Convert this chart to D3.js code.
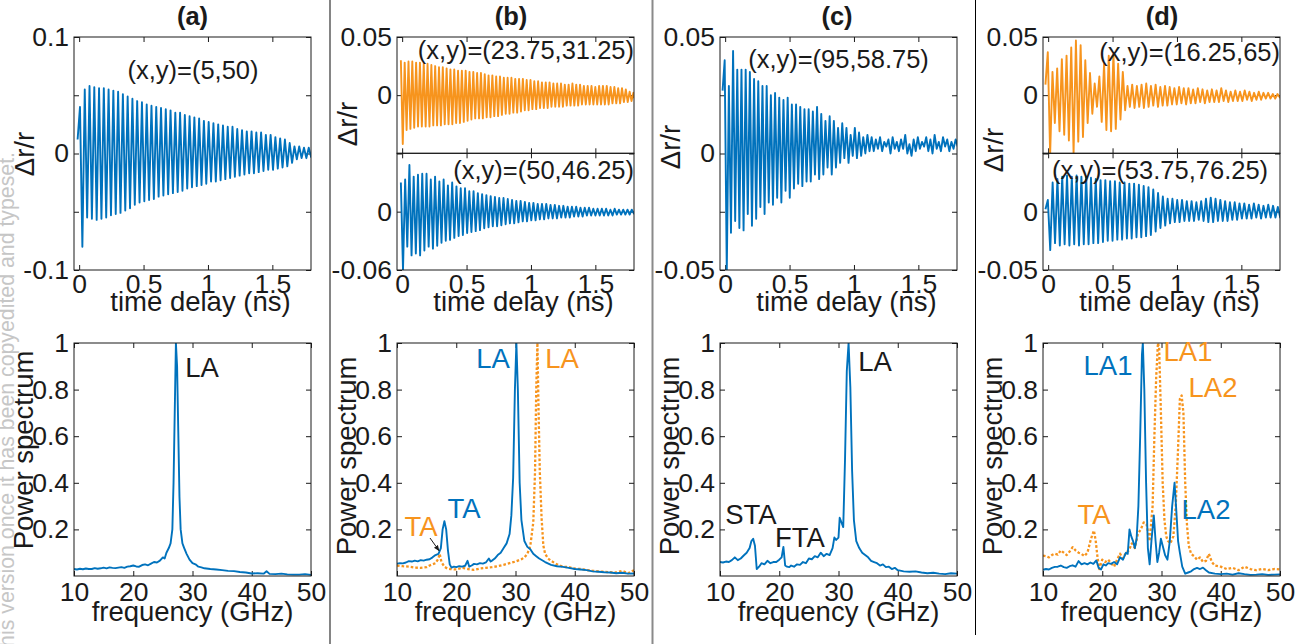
<!DOCTYPE html>
<html><head><meta charset="utf-8">
<script src="https://cdn.jsdelivr.net/npm/d3@7"></script>
<style>
body{margin:0;background:#fff;}
svg{display:block;font-family:"Liberation Sans",Arial,Helvetica,sans-serif;}
</style></head><body>
<script>
// ---------------- DATA ----------------
const panelTitles = ["(a)","(b)","(c)","(d)"];
const timeTicks = [0,0.5,1,1.5];
const freqTicks = [10,20,30,40,50];
const powerTicks = [0.2,0.4,0.6,0.8,1];
const timeDomain = [-0.04,1.8];
const freqDomain = [10,50];

// time traces: successive extrema of Δr/r, sampled from t0 with step dt (ns)
const traceA_t0 = -0.012, traceA_dt = 0.0185;
const traceA = [.012,.040,-.080,
.055,-.055,.058,-.056,.057,-.057,.056,-.056,.056,-.055,
.055,-.053,.054,-.052,.053,-.051,.051,-.049,.049,-.047,
.047,-.044,.045,-.042,.044,-.041,.042,-.040,.041,-.039,
.040,-.037,.039,-.036,.038,-.035,.037,-.034,.035,-.033,
.035,-.032,.033,-.030,.032,-.029,.031,-.028,.030,-.027,
.028,-.026,.027,-.024,.026,-.024,.025,-.023,.024,-.022,
.023,-.021,.023,-.020,.021,-.019,.020,-.018,.019,-.017,
.019,-.017,.018,-.016,.018,-.015,.016,-.014,.016,-.014,
.014,-.013,.013,-.012,.012,-.011,.009,-.008,.006,-.005,
.006,-.004,.005,-.004,.005,-.003,.004,-.002];

const traceBup_t0 = -0.01, traceBup_dt = 0.0148;
const traceBup = [.030,-.042,
.028,-.030,.029,-.029,.029,-.028,.028,-.027,.028,-.027,
.027,-.027,.027,-.027,.026,-.026,.025,-.026,.024,-.026,
.024,-.025,.023,-.025,.022,-.025,.022,-.024,.021,-.024,
.021,-.023,.021,-.022,.020,-.021,.020,-.020,.019,-.020,
.019,-.020,.018,-.019,.017,-.019,.017,-.018,.016,-.018,
.016,-.017,.015,-.016,.015,-.016,.015,-.015,.014,-.015,
.014,-.014,.014,-.013,.013,-.013,.013,-.012,.012,-.012,
.012,-.011,.011,-.011,.011,-.011,.011,-.010,.010,-.010,
.010,-.010,.010,-.010,.009,-.009,.009,-.009,.010,-.009,
.009,-.009,.009,-.008,.008,-.008,.008,-.008,.008,-.008,
.007,-.008,.008,-.008,.008,-.008,.008,-.008,.007,-.007,
.007,-.007,.006,-.007,.006,-.006,.005,-.006,.003,-.005,
.002,-.005];

const traceBlo_t0 = -0.01, traceBlo_dt = 0.0166;
const traceBlo = [.030,-.060,
.033,-.036,.048,-.045,.036,-.043,.038,-.045,.039,-.040,
.039,-.036,.033,-.038,.036,-.035,.031,-.032,.033,-.030,
.027,-.029,.030,-.027,.026,-.025,.024,-.024,.024,-.022,
.021,-.021,.021,-.020,.019,-.019,.018,-.017,.017,-.016,
.016,-.015,.015,-.015,.014,-.014,.014,-.013,.013,-.012,
.012,-.012,.011,-.011,.011,-.010,.010,-.010,.009,-.009,
.009,-.009,.008,-.008,.008,-.008,.008,-.007,.007,-.007,
.007,-.007,.006,-.006,.006,-.006,.005,-.006,.005,-.005,
.005,-.005,.004,-.005,.004,-.004,.004,-.004,.003,-.004,
.003,-.004,.003,-.004,.003,-.004,.002,-.004,.003,-.003,
.002,-.003,.002,-.003,.002,-.003,.002,-.002,.002,-.002];

const traceC_t0 = -0.02, traceC_dt = 0.0163;
const traceC = [.027,
.040,-.051,.029,-.034,.044,-.029,.036,-.032,.036,-.033,
.036,-.026,.035,-.031,.032,-.028,.031,-.023,.029,-.026,
.029,-.021,.025,-.022,.026,-.019,.024,-.021,.023,-.016,
.024,-.019,.021,-.015,.021,-.013,.020,-.014,.019,-.012,
.019,-.012,.018,-.009,.020,-.011,.017,-.009,.014,-.006,
.016,-.009,.014,-.006,.011,-.004,.013,-.002,.011,-.004,
.008,-.001,.011,-.002,.009,-.001,.007,0,.008,.001,
.007,
.001,.006,.002,.007,.001,.005,.003,.006,.000,.007,
.002,.005,.001,.006,.002,.008,.000,.004,-.001,.006,
.001,.007,.002,.005,.003,.007,.001,.006,.000,.008,
.002,.005,.001,.007,.003,.006,.001,.005,.002,.006,
.003,.004];

const traceDup_t0 = -0.021, traceDup_dt = 0.0182;
const traceDup = [.009,.037,-.051,.020,-.024,.023,-.031,.031,-.034,.034,
-.039,.041,-.050,.047,-.040,.043,-.036,.030,-.024,.019,
-.016,.010,-.010,.016,-.023,.027,-.030,.034,-.031,.036,
-.029,.027,-.021,.020,-.013,.008,-.010,
.009,-.011,.008,-.010,.009,-.011,.010,-.010,.008,-.009,
.009,-.010,.007,-.009,.008,-.009,.007,-.008,.006,-.008,
.007,-.007,.006,-.008,.006,-.007,.005,-.007,.006,-.006,
.005,-.007,.004,-.006,.005,-.006,.004,-.006,.006,-.005,
.004,-.006,.003,-.005,.004,-.005,.003,-.005,.004,-.004,
.003,-.005,.002,-.004,.003,-.004,.002,-.003,.002,-.003,
.001,-.003,.001,-.002,.001];

const traceDlo_t0 = -0.021, traceDlo_dt = 0.0186;
const traceDlo = [.002,.010,-.033,.025,-.027,.028,-.029,.030,-.028,.031,-.029,.030,-.028,.031,-.029,.030,-.028,.030,-.028,.029,-.027,
.028,-.027,.027,-.026,.027,-.025,.026,-.025,.026,-.024,.025,-.024,.025,-.023,.024,-.023,.024,-.022,.023,-.022,
.022,-.021,.021,-.020,.019,-.017,.016,-.014,.013,-.012,.011,-.010,.011,-.009,.010,-.009,.010,-.008,.009,-.008,
.009,-.008,.008,-.007,.009,-.008,.011,-.009,.012,-.009,.011,-.008,.010,-.008,.009,-.008,.008,-.007,.008,-.007,
.007,-.006,.007,-.006,.006,-.006,.007,-.005,.006,-.006,.005,-.005,.006,-.005,.005,-.005,.004,-.005,.005];

// power spectra (frequency GHz, normalised power)
const specA_f = [10,10.5,11,11.5,12,12.5,13,13.5,14,14.5,15,15.5,16,16.5,17,17.5,18,18.5,19,19.5,20,20.5,21,21.5,22,22.5,23,23.5,24,24.5,25,25.3,25.6,26,26.3,26.6,26.8,27,27.2,27.4,27.6,27.8,28,28.3,28.6,29,29.5,30,30.5,31,31.5,32,33,34,35,36,37,38,39,40,41,42,42.5,43,44,45,46,47,48,49,50];
const specA_p = [.030,.028,.031,.029,.032,.030,.030,.034,.031,.033,.036,.033,.037,.035,.034,.036,.038,.035,.040,.042,.045,.041,.040,.047,.050,.046,.053,.060,.058,.066,.080,.075,.100,.120,.140,.200,.400,.700,1.0,.900,.620,.340,.200,.140,.120,.095,.070,.055,.050,.040,.037,.033,.030,.028,.025,.022,.021,.017,.015,.011,.012,.010,.020,.009,.008,.010,.007,.006,.006,.008,.005];

const specB_blue_f = [10,10.5,11,11.5,12,12.5,13,13.5,14,14.5,15,15.5,16,16.5,17,17.4,17.7,18,18.3,18.6,18.9,19.2,19.6,20,20.5,21,21.5,21.9,22.2,22.6,23,23.5,24,24.5,25,25.5,25.8,26,26.5,27,27.5,28,28.5,29,29.3,29.6,29.9,30.15,30.4,30.7,31,31.5,32,32.5,33,33.5,34,35,36,37,38,39,40,41,42,43,44,45,46,47,48,49,50];
const specB_blue_p = [.053,.055,.054,.058,.064,.062,.066,.063,.068,.066,.070,.072,.080,.090,.095,.120,.200,.235,.200,.110,.050,.036,.040,.038,.042,.040,.044,.065,.040,.045,.052,.050,.055,.053,.058,.075,.062,.065,.075,.090,.100,.120,.140,.180,.260,.420,.800,1.0,.800,.400,.240,.150,.125,.115,.095,.085,.075,.060,.048,.042,.039,.035,.030,.028,.025,.020,.018,.016,.015,.012,.014,.010,.011];
const specB_orange_f = [10,11,12,13,14,15,15.5,16,16.5,17,17.2,17.5,18,18.5,19,20,21,22,23,24,25,26,27,28,29,30,31,31.5,32,32.5,33,33.3,33.5,33.7,33.9,34.1,34.4,34.7,35,35.5,36,37,38,39,40,41,42,43,44,45,46,47,48,49,50];
const specB_orange_p = [.045,.042,.040,.036,.035,.038,.045,.050,.055,.075,.095,.060,.040,.032,.030,.028,.035,.030,.026,.032,.035,.038,.042,.048,.055,.062,.072,.080,.095,.130,.230,.450,.800,1.0,.700,.450,.250,.130,.095,.075,.065,.050,.040,.038,.032,.030,.026,.022,.020,.018,.016,.015,.022,.012,.025];

const specC_f = [10,10.5,11,11.5,12,12.5,13,13.5,14,14.5,15,15.3,15.6,15.9,16.2,16.6,17,17.5,18,18.5,19,19.5,20,20.4,20.7,21,21.3,21.7,22,22.5,23,23.5,24,24.5,25,25.5,26,26.5,27,27.5,28,28.5,29,29.3,29.6,30,30.2,30.5,30.8,31.1,31.4,31.7,32,32.3,32.6,33,33.5,34,34.5,35,35.5,36,36.5,37,37.5,38,38.5,39,39.5,40,41,42,43,44,45,46,47,48,49,50];
const specC_p = [.060,.058,.062,.060,.068,.080,.068,.075,.088,.100,.120,.150,.160,.130,.030,.040,.055,.050,.065,.055,.060,.060,.070,.080,.125,.045,.040,.038,.045,.040,.050,.048,.060,.055,.075,.072,.085,.080,.100,.085,.095,.090,.120,.165,.155,.165,.250,.230,.210,.500,.880,1.0,.810,.450,.240,.150,.120,.100,.090,.080,.065,.060,.055,.045,.050,.038,.040,.030,.035,.025,.020,.018,.020,.015,.012,.014,.010,.008,.012,.010];

const specD_blue_f = [10,10.5,11,11.5,12,12.5,13,13.5,14,14.5,15,15.5,16,16.5,17,17.5,18,18.5,19,19.4,19.8,20.2,20.6,21,21.5,22,22.5,23,23.5,24,24.3,24.6,24.9,25.2,25.5,25.8,26.1,26.4,26.7,26.85,27.1,27.4,27.7,28.0,28.3,28.7,29.0,29.3,29.6,29.9,30.2,30.6,31.0,31.4,31.8,32.2,32.5,32.8,33.1,33.5,34,34.5,35,35.5,36,36.5,37,37.5,38,39,40,41,42,43,44,45,46,47,48,49,50];
const specD_blue_p = [.027,.030,.028,.035,.039,.040,.045,.038,.035,.042,.046,.040,.064,.050,.055,.050,.058,.052,.067,.035,.028,.050,.045,.055,.052,.060,.050,.080,.070,.100,.095,.200,.170,.150,.120,.160,.300,.600,.950,1.0,.800,.400,.120,.050,.150,.260,.150,.060,.100,.160,.130,.090,.070,.150,.300,.400,.280,.150,.100,.040,.010,.015,.020,.030,.035,.030,.036,.025,.015,.010,.008,.010,.006,.012,.008,.005,.006,.008,.005,.006,.007];
const specD_orange_f = [10,10.5,11,11.5,12,12.5,13,13.5,14,14.5,15,15.5,16,16.5,17,17.5,18,18.3,18.6,18.9,19.2,19.5,20,20.5,21,21.5,22,22.5,23,23.5,24,24.5,25,25.5,26,26.5,27,27.5,28,28.5,28.8,29.1,29.4,29.6,29.9,30.2,30.5,30.8,31.1,31.5,32,32.4,32.8,33.1,33.4,33.7,34,34.3,34.6,35,35.5,36,36.5,37,37.5,38,38.5,39,40,41,42,43,44,45,46,47,48,49,50];
const specD_orange_p = [.088,.085,.080,.090,.096,.092,.110,.100,.090,.105,.124,.110,.100,.095,.085,.100,.150,.175,.195,.150,.080,.030,.070,.060,.070,.055,.040,.070,.096,.075,.100,.110,.140,.120,.180,.200,.230,.220,.150,.300,.600,.850,1.0,.980,.700,.400,.240,.170,.150,.140,.170,.300,.550,.760,.775,.700,.400,.220,.130,.095,.085,.070,.080,.060,.065,.095,.060,.045,.040,.030,.035,.025,.040,.030,.025,.030,.025,.030,.028];

const positionLabels = ["(x,y)=(5,50)","(x,y)=(23.75,31.25)","(x,y)=(50,46.25)","(x,y)=(95,58.75)","(x,y)=(16.25,65)","(x,y)=(53.75,76.25)"];
const watermarkText = "This is the author\u2019s peer reviewed, accepted manuscript. However, the online version of record will be different from this version once it has been copyedited and typeset.";

// ---------------- DRAWING ----------------
const BLUE="#0072BD", ORANGE="#F7941D", INK="#1a1a1a";
const FONT='"Liberation Sans",Arial,Helvetica,sans-serif';
const TICK_FS=26.5, LAB_FS=27.5, ANN_FS=25.5, MODE_FS=27.5, TITLE_FS=25.5;
const W=1296,H=644;
const svg=d3.select("body").append("svg").attr("width",W).attr("height",H);
const defs=svg.append("defs");
defs.append("marker").attr("id","arr").attr("viewBox","0 0 10 10").attr("refX",9).attr("refY",5)
  .attr("markerWidth",6).attr("markerHeight",6).attr("orient","auto")
  .append("path").attr("d","M0,1L10,5L0,9z").attr("fill",INK);

// watermark
svg.append("text").attr("transform","translate(13.5,152) rotate(-90)")
  .attr("text-anchor","end").attr("font-size",21.3).attr("fill","#c6c6c6").text(watermarkText);

// separators
svg.append("line").attr("x1",330).attr("x2",330).attr("y1",0).attr("y2",644).attr("stroke","#333").attr("stroke-width",1.2);
svg.append("line").attr("x1",652.5).attr("x2",652.5).attr("y1",0).attr("y2",644).attr("stroke","#8a8a8a").attr("stroke-width",2);
svg.append("line").attr("x1",975.5).attr("x2",975.5).attr("y1",0).attr("y2",635).attr("stroke","#000").attr("stroke-width",1);

const colLeft=[74,397,720,1043], boxW=237;
const TOP0=37, TOP1=270, MID=153.3, BOT0=343, BOT1=576;
let clipN=0;
const fmt = d => String(d);

function axesBox(x0,x1,y0,y1,xDom,yDom,xTicks,yTicks,yLab,xLab,xPad){
  const x=d3.scaleLinear().domain(xDom).range([x0,x1]);
  const y=d3.scaleLinear().domain(yDom).range([y1,y0]);
  const g=svg.append("g");
  const style = sel => sel.attr("font-size",TICK_FS).attr("font-family",FONT);
  g.append("g").attr("transform",`translate(${x0},0)`)
    .call(d3.axisLeft(y).tickValues(yTicks).tickSize(-5).tickPadding(5).tickFormat(d=>yLab.includes(d)?fmt(d):"")).call(style);
  g.append("g").attr("transform",`translate(${x1},0)`)
    .call(d3.axisRight(y).tickValues(yTicks).tickSize(-5).tickFormat(()=>""));
  g.append("g").attr("transform",`translate(0,${y1})`)
    .call(d3.axisBottom(x).tickValues(xTicks).tickSize(-5).tickPadding(xPad).tickFormat(d=>xLab?fmt(d):"")).call(style);
  g.append("g").attr("transform",`translate(0,${y0})`)
    .call(d3.axisTop(x).tickValues(xTicks).tickSize(-5).tickFormat(()=>""));
  g.selectAll(".domain").remove();
  g.selectAll(".tick line").attr("stroke",INK).attr("stroke-width",1);
  g.selectAll(".tick text").attr("fill",INK);
  const id="c"+(clipN++);
  defs.append("clipPath").attr("id",id).append("rect").attr("x",x0).attr("y",y0).attr("width",x1-x0).attr("height",y1-y0);
  const plot=svg.append("g").attr("clip-path",`url(#${id})`);
  svg.append("rect").attr("x",x0).attr("y",y0).attr("width",x1-x0).attr("height",y1-y0)
    .attr("fill","none").attr("stroke",INK).attr("stroke-width",1);
  return {x,y,plot};
}

function trace(ax,vals,t0,dt,color){
  const pts=vals.map((v,i)=>[t0+i*dt,v]);
  ax.plot.append("path").datum(pts)
    .attr("d",d3.line().x(d=>ax.x(d[0])).y(d=>ax.y(d[1])))
    .attr("fill","none").attr("stroke",color).attr("stroke-width",1.9).attr("stroke-linejoin","round");
}
function spectrum(ax,f,p,color,dotted){
  const pts=f.map((v,i)=>[v,p[i]]);
  const path=ax.plot.append("path").datum(pts)
    .attr("d",d3.line().x(d=>ax.x(d[0])).y(d=>ax.y(d[1])))
    .attr("fill","none").attr("stroke",color).attr("stroke-width",dotted?2.3:1.9).attr("stroke-linejoin","round");
  if(dotted) path.attr("stroke-dasharray","2.6,2");
}
function label(x,y,txt,opt={}){
  const t=svg.append("text").attr("x",x).attr("y",y).text(txt)
    .attr("font-size",opt.size||MODE_FS).attr("fill",opt.color||INK)
    .attr("text-anchor",opt.anchor||"middle");
  if(opt.bold) t.attr("font-weight","bold");
  if(opt.rot) t.attr("transform",`rotate(-90,${x},${y})`);
  return t;
}

const timeYA=[-0.1,-0.05,0,0.05,0.1];
const timeYC=[-0.05,-0.025,0,0.025,0.05];

// ---- panel a
{
  const L=colLeft[0], R=L+boxW;
  const ax=axesBox(L,R,TOP0,TOP1,timeDomain,[-0.1,0.1],timeTicks,timeYA,[-0.1,0,0.1],true,4);
  trace(ax,traceA,traceA_t0,traceA_dt,BLUE);
  const sp=axesBox(L,R,BOT0,BOT1,freqDomain,[0,1],freqTicks,powerTicks,powerTicks,true,6);
  spectrum(sp,specA_f,specA_p,BLUE,false);
  label(202,377,"LA");
  label(L+119,79,positionLabels[0],{size:ANN_FS});
}
// ---- panel b
{
  const L=colLeft[1], R=L+boxW;
  const up=axesBox(L,R,TOP0,MID,timeDomain,[-0.05,0.05],timeTicks,[-0.05,0,0.05],[0,0.05],false,4);
  trace(up,traceBup,traceBup_t0,traceBup_dt,ORANGE);
  const lo=axesBox(L,R,MID,TOP1,timeDomain,[-0.06,0.06],timeTicks,[-0.06,0,0.06],[-0.06,0],true,4);
  trace(lo,traceBlo,traceBlo_t0,traceBlo_dt,BLUE);
  label(R,59,positionLabels[1],{size:ANN_FS,anchor:"end"});
  label(R,179,positionLabels[2],{size:ANN_FS,anchor:"end"});
  const sp=axesBox(L,R,BOT0,BOT1,freqDomain,[0,1],freqTicks,powerTicks,powerTicks,true,6);
  spectrum(sp,specB_orange_f,specB_orange_p,ORANGE,true);
  spectrum(sp,specB_blue_f,specB_blue_p,BLUE,false);
  label(493,368,"LA",{color:BLUE});
  label(562,368,"LA",{color:ORANGE});
  label(464,518,"TA",{color:BLUE});
  label(421,536,"TA",{color:ORANGE});
  svg.append("line").attr("x1",430).attr("y1",538).attr("x2",sp.x(17.1)).attr("y2",sp.y(0.1)-2)
    .attr("stroke",INK).attr("stroke-width",1).attr("marker-end","url(#arr)");
}
// ---- panel c
{
  const L=colLeft[2], R=L+boxW;
  const ax=axesBox(L,R,TOP0,TOP1,timeDomain,[-0.05,0.05],timeTicks,timeYC,[-0.05,0,0.05],true,4);
  trace(ax,traceC,traceC_t0,traceC_dt,BLUE);
  label(838.5,68,positionLabels[3],{size:ANN_FS});
  const sp=axesBox(L,R,BOT0,BOT1,freqDomain,[0,1],freqTicks,powerTicks,powerTicks,true,6);
  spectrum(sp,specC_f,specC_p,BLUE,false);
  label(875,371,"LA");
  label(751,524,"STA");
  label(800,547,"FTA");
}
// ---- panel d
{
  const L=colLeft[3], R=L+boxW;
  const up=axesBox(L,R,TOP0,MID,timeDomain,[-0.05,0.05],timeTicks,[-0.05,0,0.05],[0,0.05],false,4);
  trace(up,traceDup,traceDup_t0,traceDup_dt,ORANGE);
  const lo=axesBox(L,R,MID,TOP1,timeDomain,[-0.05,0.05],timeTicks,[-0.05,0,0.05],[-0.05,0],true,4);
  trace(lo,traceDlo,traceDlo_t0,traceDlo_dt,BLUE);
  label(R,61,positionLabels[4],{size:ANN_FS,anchor:"end"});
  label(1160,179,positionLabels[5],{size:ANN_FS});
  const sp=axesBox(L,R,BOT0,BOT1,freqDomain,[0,1],freqTicks,powerTicks,powerTicks,true,6);
  spectrum(sp,specD_orange_f,specD_orange_p,ORANGE,true);
  spectrum(sp,specD_blue_f,specD_blue_p,BLUE,false);
  label(1108,375,"LA1",{color:BLUE});
  label(1188,361,"LA1",{color:ORANGE});
  label(1213,397,"LA2",{color:ORANGE});
  label(1206,519,"LA2",{color:BLUE});
  label(1094,524,"TA",{color:ORANGE});
}

// titles, axis labels
const titleX=[192.5,511,837,1162];
const dyCenters=[154,124,147,150];
const psCenters=[450,456,456,456];
colLeft.forEach((L,i)=>{
  label(titleX[i],25,panelTitles[i],{size:TITLE_FS,bold:true});
  label(L+boxW/2+8,311,"time delay (ns)",{size:LAB_FS});
  label(L+boxW/2,621,"frequency (GHz)",{size:LAB_FS});
  label(L-49+9,dyCenters[i],"\u0394r/r",{rot:true,size:LAB_FS});
  label(L-49+8,psCenters[i],"Power spectrum",{rot:true,size:LAB_FS});
});
</script></body></html>
